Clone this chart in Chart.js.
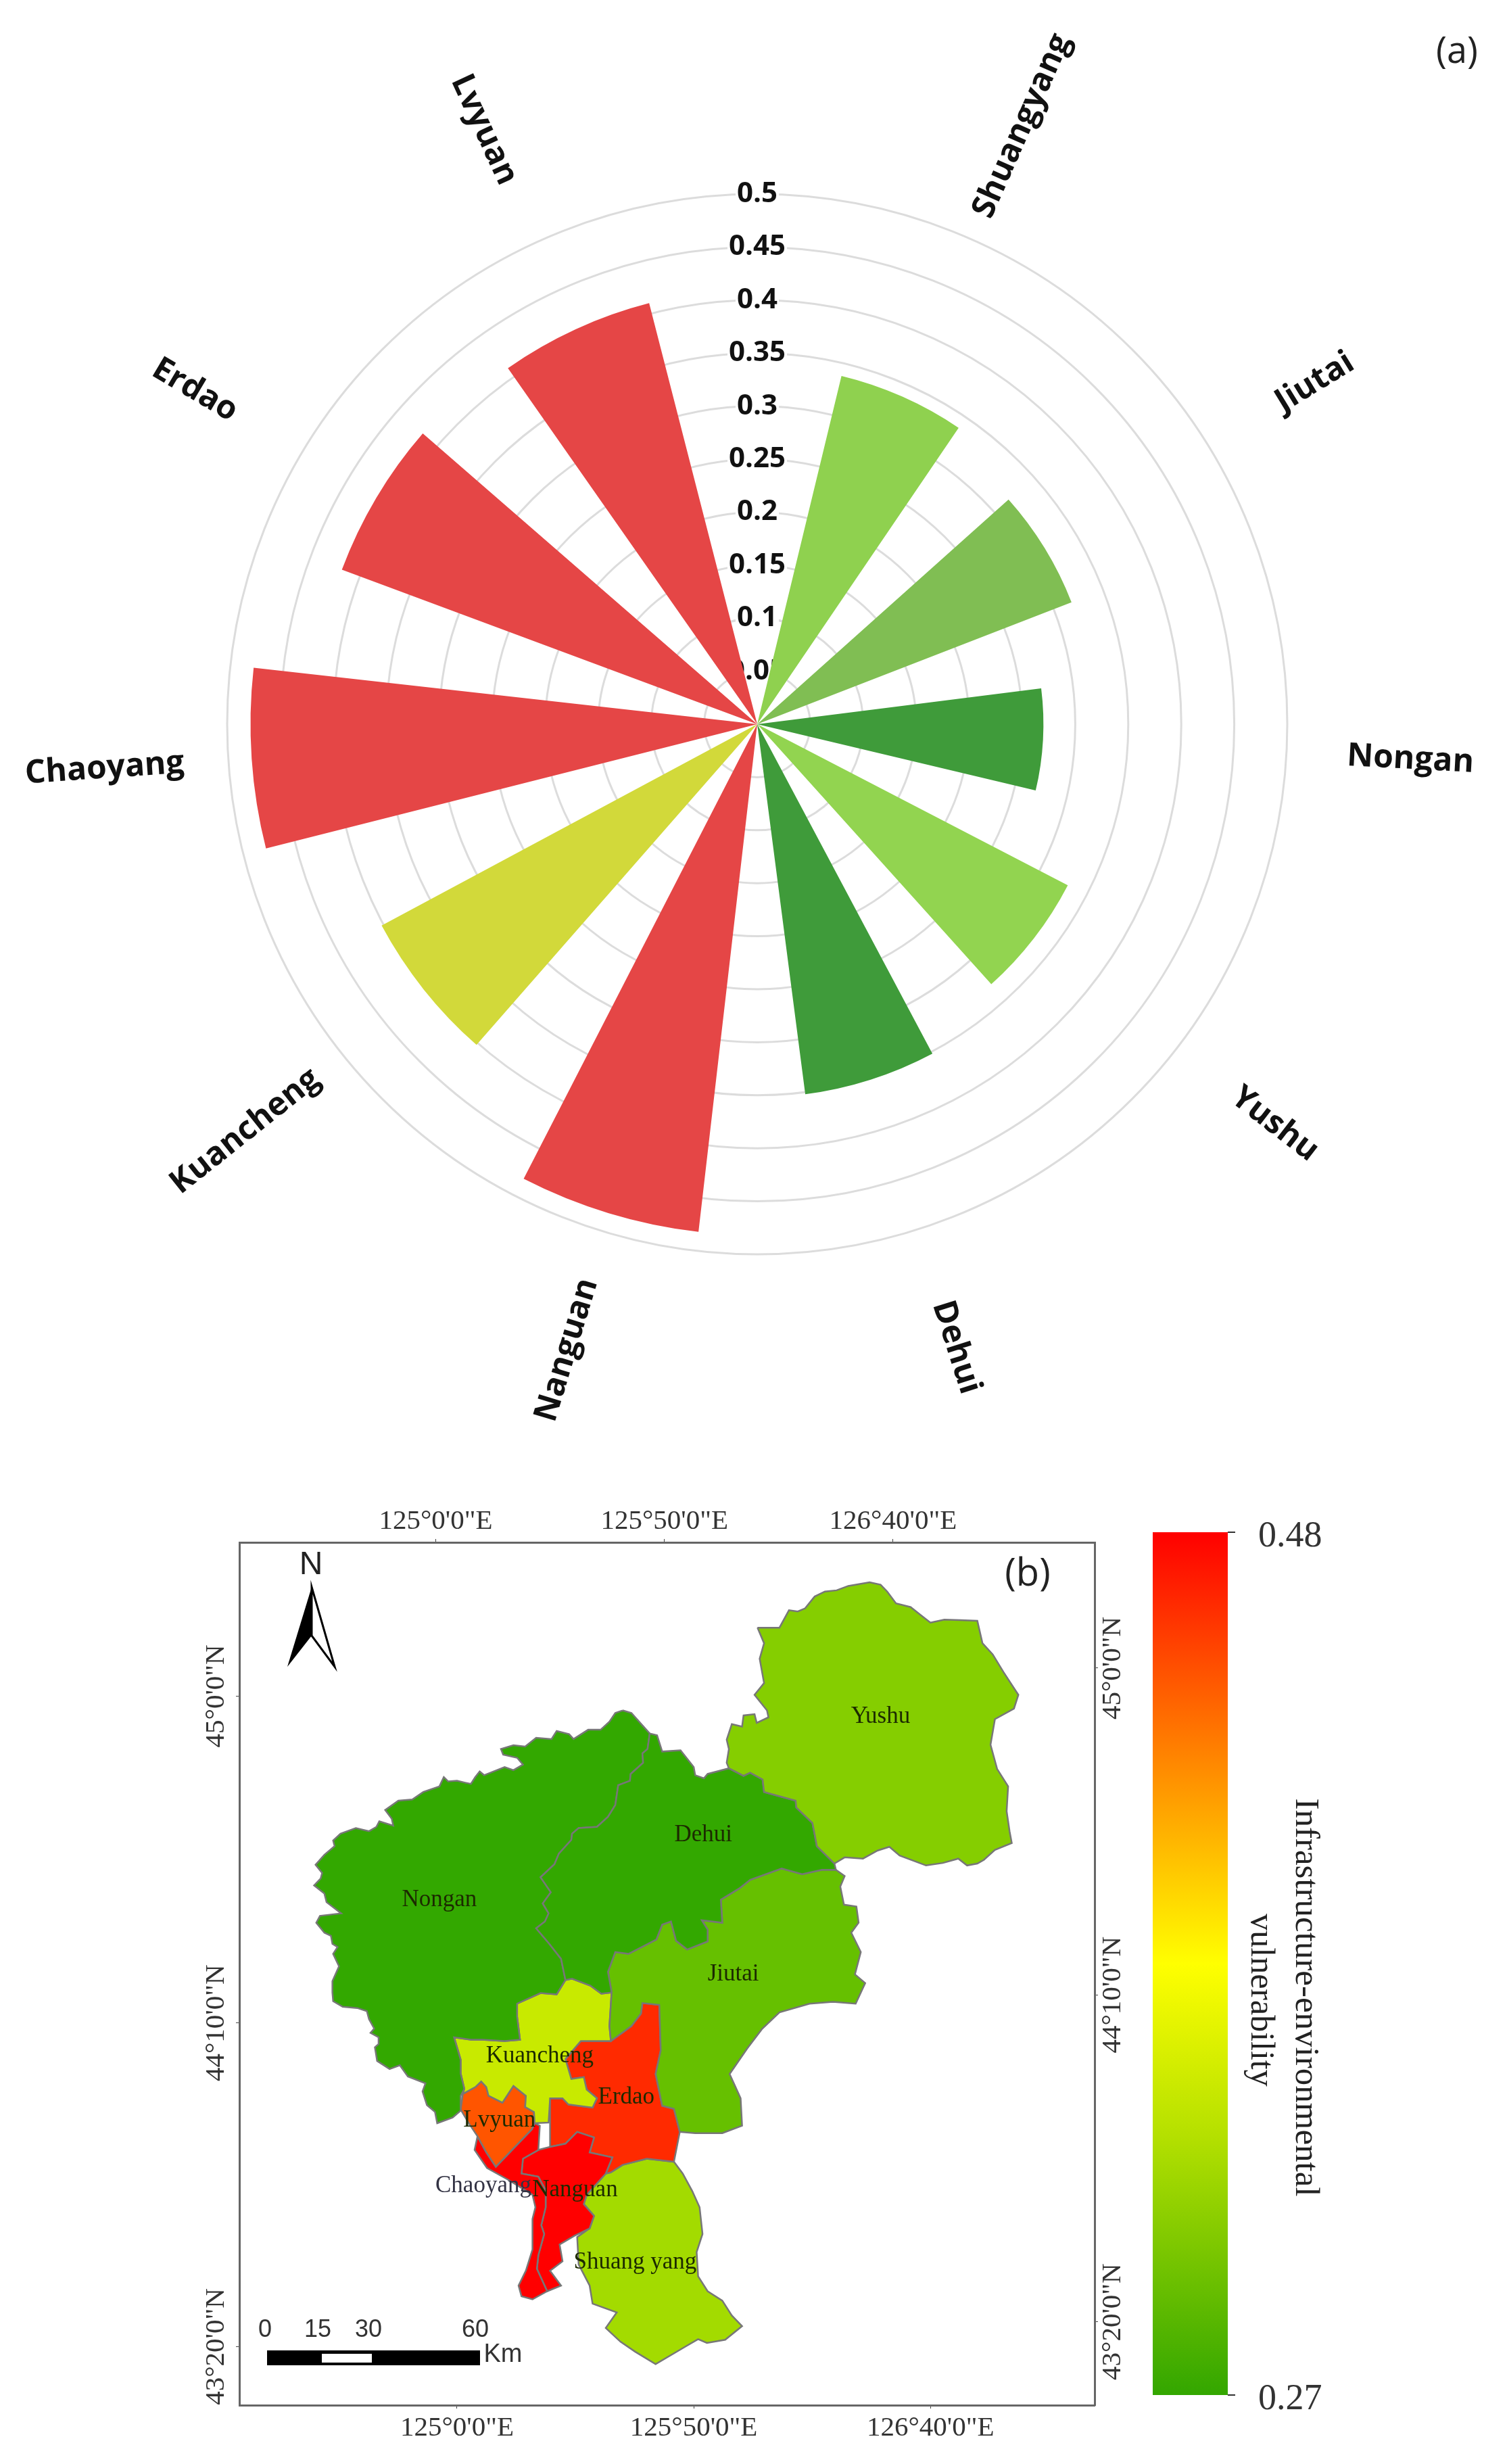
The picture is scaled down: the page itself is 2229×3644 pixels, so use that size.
<html>

<head>
  <title>Infrastructure-environmental vulnerability</title>
  <script src="https://cdn.jsdelivr.net/npm/chart.js@4/dist/chart.umd.min.js"></script>
  <style>
    body { margin: 0; background: #fff; }
    #page { position: relative; width: 2229px; height: 3644px; overflow: hidden; }
    canvas { position: absolute; left: 0; top: 0; filter: blur(0.6px); }
  </style>
</head>

<body>
  <div id="page">
    <canvas id="polarChart" width="2229" height="3644"></canvas>
    <canvas id="mapChart" width="2229" height="3644"></canvas>
    <canvas id="barChart" width="2229" height="3644"></canvas>
  </div>

  <script>
    // panel (a)
    const counties = ["Shuangyang", "Jiutai", "Nongan", "Yushu", "Dehui", "Nanguan", "Kuancheng", "Chaoyang", "Erdao", "Lvyuan"];
    const vulnerability = [0.338, 0.318, 0.27, 0.33, 0.352, 0.482, 0.402, 0.478, 0.418, 0.41];
    const wedgeColors = ["#8FD14F", "#80BE53", "#3F9B3A", "#92D450", "#3F9B3A", "#E54646", "#D2D93A", "#E54646", "#E54646", "#E54646"];
    const wedgeAngle = 20.6;
    const gapAngle = 14;
    const firstWedgeStart = 13.6;
    const radialMax = 0.5;
    const radialStep = 0.05;

    const yushu = [[757,225],[787,225],[800,197],[812,199],[822,194],[835,175],[849,167],[865,165],[881,158],[910,152],[925,156],[934,167],[946,186],[966,192],[980,205],[993,217],[1012,212],[1034,213],[1057,214],[1064,250],[1078,268],[1093,297],[1113,333],[1107,355],[1081,372],[1075,413],[1084,452],[1099,480],[1097,520],[1101,552],[1104,571],[1081,582],[1066,598],[1057,604],[1043,607],[1031,596],[1010,603],[987,607],[951,591],[937,577],[921,583],[901,596],[876,594],[862,604],[838,576],[835,557],[832,539],[810,514],[809,503],[766,489],[764,469],[747,458],[738,463],[718,451],[715,442],[718,420],[715,405],[722,380],[736,384],[738,366],[753,364],[756,378],[772,369],[770,358],[753,333],[766,314],[760,275],[766,250]];
    const dehui = [[610,395],[620,398],[627,424],[652,422],[670,449],[672,462],[684,467],[689,460],[718,451],[738,463],[747,458],[764,469],[766,489],[809,503],[810,514],[832,539],[835,557],[838,576],[862,604],[864,614],[845,614],[818,621],[790,612],[747,630],[732,644],[707,662],[709,699],[681,695],[689,710],[689,729],[661,742],[646,728],[639,697],[627,702],[619,726],[581,749],[563,746],[553,778],[558,811],[544,813],[529,800],[504,789],[495,791],[489,757],[473,733],[455,708],[467,697],[472,684],[464,668],[475,650],[461,626],[480,605],[486,588],[503,566],[504,556],[513,547],[538,545],[553,529],[563,510],[567,478],[583,471],[584,460],[601,442],[600,427],[607,420]];
    const nongan = [[573,358],[585,362],[600,382],[610,395],[607,420],[600,427],[601,442],[584,460],[583,471],[567,478],[563,510],[553,529],[538,545],[513,547],[504,556],[503,566],[486,588],[480,605],[461,626],[475,650],[464,668],[472,684],[467,697],[455,708],[473,733],[489,757],[495,791],[483,814],[461,812],[429,829],[429,850],[433,887],[412,889],[381,887],[366,887],[343,883],[352,919],[352,941],[357,966],[352,977],[352,1001],[341,1012],[320,1021],[317,1003],[306,992],[300,970],[304,957],[280,946],[269,928],[255,934],[238,921],[235,899],[240,894],[240,883],[229,876],[234,869],[227,854],[224,841],[211,836],[191,834],[178,825],[177,811],[177,793],[186,769],[178,749],[184,738],[177,733],[175,720],[166,715],[155,699],[160,688],[189,684],[169,666],[166,652],[152,639],[161,628],[163,619],[154,606],[166,590],[180,576],[178,567],[188,556],[209,547],[227,552],[237,545],[241,536],[260,543],[258,532],[249,518],[267,503],[286,501],[301,489],[323,480],[329,465],[335,472],[347,471],[358,474],[366,476],[372,465],[378,456],[384,462],[412,449],[424,454],[437,445],[429,434],[410,429],[407,420],[424,414],[440,416],[455,402],[476,404],[483,391],[500,396],[506,404],[526,389],[543,389],[555,376],[563,362]];
    const jiutai = [[864,614],[876,624],[870,641],[875,670],[892,673],[895,699],[885,715],[898,746],[890,782],[904,796],[891,829],[860,826],[828,829],[787,843],[763,870],[743,901],[719,942],[734,981],[736,1025],[709,1037],[672,1037],[651,1035],[643,998],[627,993],[618,942],[625,904],[623,831],[600,828],[598,845],[585,865],[557,889],[555,865],[558,811],[553,778],[563,746],[581,749],[619,726],[627,702],[639,697],[646,728],[661,742],[689,729],[689,710],[681,695],[709,699],[707,662],[732,644],[747,630],[790,612],[818,621],[845,614]];
    const kuancheng = [[343,883],[366,887],[381,887],[412,889],[433,887],[429,850],[429,829],[461,812],[483,814],[495,791],[504,789],[529,800],[544,813],[558,811],[555,865],[557,889],[516,889],[495,918],[503,950],[520,947],[524,967],[538,981],[532,996],[499,991],[491,981],[474,981],[472,1020],[453,1021],[452,1003],[440,995],[441,977],[424,961],[409,988],[390,977],[387,963],[380,954],[372,963],[355,974],[357,966],[352,941],[352,919]];
    const lvyuan = [[355,974],[372,963],[380,954],[387,963],[390,977],[409,988],[424,961],[441,977],[440,995],[452,1003],[453,1021],[449,1031],[400,1091],[387,1068],[375,1042],[363,1021],[352,999]];
    const chaoyang = [[453,1021],[460,1025],[458,1064],[437,1078],[435,1102],[458,1107],[468,1129],[468,1156],[462,1185],[466,1199],[458,1233],[456,1255],[470,1291],[450,1304],[435,1299],[431,1282],[441,1258],[450,1224],[450,1175],[454,1156],[450,1136],[417,1112],[388,1093],[371,1064],[375,1042],[387,1068],[400,1091],[449,1031]];
    const nanguan = [[435,1102],[437,1078],[458,1064],[474,1059],[495,1054],[511,1035],[534,1044],[528,1068],[559,1076],[550,1102],[524,1136],[520,1151],[534,1170],[528,1190],[507,1202],[487,1216],[491,1243],[474,1258],[489,1282],[470,1291],[456,1255],[458,1233],[466,1199],[462,1185],[468,1156],[468,1129],[458,1107]];
    const erdao = [[600,828],[623,831],[625,904],[618,942],[627,993],[643,998],[651,1035],[643,1083],[606,1078],[573,1088],[557,1100],[550,1102],[559,1076],[528,1068],[534,1044],[511,1035],[495,1054],[474,1059],[474,981],[491,981],[499,991],[532,996],[538,981],[524,967],[520,947],[503,950],[495,918],[516,889],[557,889],[585,865],[598,845]];
    const shuangyang = [[557,1100],[573,1088],[606,1078],[643,1083],[655,1102],[668,1130],[678,1156],[682,1199],[674,1228],[676,1267],[689,1291],[709,1306],[722,1330],[736,1347],[713,1369],[688,1374],[676,1368],[660,1379],[618,1408],[590,1388],[570,1372],[550,1350],[565,1325],[532,1311],[528,1282],[513,1248],[511,1204],[528,1190],[534,1170],[520,1151],[524,1136],[550,1102]];

    const mapOutlines = [yushu, dehui, nongan, jiutai, kuancheng, lvyuan, chaoyang, nanguan, erdao, shuangyang];
    const mapColors = ["#85CE00", "#33A800", "#33A800", "#66C000", "#C8EA00", "#FF5500", "#FF0000", "#FF0000", "#FF2A00", "#A3DB00"];

    const mapLabels = ["Yushu", "Dehui", "Nongan", "Jiutai", "Kuancheng", "Lvyuan", "Chaoyang", "Nanguan", "Erdao", "Shuang yang"];
    const mapLabelX = [925, 683, 323, 724, 460, 405, 383, 508, 578, 590];
    const mapLabelY = [368, 558, 662, 782, 913, 1017, 1122, 1128, 980, 1245];

    const lonLabels = ["125°0'0\"E", "125°50'0\"E", "126°40'0\"E"];
    const latLabels = ["45°0'0\"N", "44°10'0\"N", "43°20'0\"N"];
    const topTicks = [318, 630, 942];
    const bottomTicks = [347, 670, 993];
    const leftTicks = [335, 860, 1380];
    const rightTicks = [290, 815, 1340];

    const scaleKm = [0, 15, 30, 60];

    // colour bar
    const barRange = [0.27, 0.48];
    const barStops = [0, 0.25, 0.5, 0.7, 1];
    const barColors = ["#FF0000", "#FF7F00", "#FFFF00", "#B4E000", "#33A600"];

    const serif = "'Liberation Serif'";
    const sans = "'Liberation Sans'";

    Chart.defaults.animation = false;
    Chart.defaults.responsive = false;
    Chart.defaults.devicePixelRatio = 1;
    Chart.defaults.plugins.legend.display = false;
    Chart.defaults.plugins.tooltip.enabled = false;

    function drawText(ctx, text, x, y, font, color, rotation) {
      ctx.save();
      ctx.translate(x, y);
      ctx.rotate(rotation || 0);
      ctx.font = font;
      ctx.fillStyle = color;
      ctx.textAlign = "center";
      ctx.textBaseline = "middle";
      ctx.fillText(text, 0, 0);
      ctx.restore();
    }

    // polar chart: an empty slice in front, then wedge + gap, so the wedges do not touch
    const sliceValues = [0];
    const sliceAngles = [firstWedgeStart];
    const sliceColors = ["rgba(0,0,0,0)"];
    const sliceLabels = [""];
    counties.forEach((name, i) => {
      sliceValues.push(vulnerability[i], 0);
      sliceAngles.push(wedgeAngle, gapAngle);
      sliceColors.push(wedgeColors[i], "rgba(0,0,0,0)");
      sliceLabels.push(name, "");
    });

    const countyLabelPlugin = {
      id: "countyLabels",
      afterDraw(chart) {
        const scale = chart.scales.r;
        const arcs = chart.getDatasetMeta(0).data;
        const dist = scale.getDistanceFromCenterForValue(0.617);
        counties.forEach((name, i) => {
          const arc = arcs[i * 2 + 1];
          const mid = (arc.startAngle + arc.endAngle) / 2;
          const flip = Math.cos(mid) < 0;
          drawText(chart.ctx, name, scale.xCenter + Math.cos(mid) * dist, scale.yCenter + Math.sin(mid) * dist,
            "700 48px 'Open Sans'", "#111", flip ? mid + Math.PI : mid);
        });
        drawText(chart.ctx, "(a)", 2155, 78, "54px 'Open Sans'", "#222");
      }
    };

    new Chart(document.getElementById("polarChart").getContext("2d"), {
      type: "polarArea",
      data: {
        labels: sliceLabels,
        datasets: [{ data: sliceValues, angle: sliceAngles, backgroundColor: sliceColors, borderWidth: 0 }]
      },
      options: {
        layout: { padding: { left: 313, right: 302, top: 264, bottom: 1766 } },
        scales: {
          r: {
            min: 0,
            max: radialMax,
            grid: { color: "#DCDCDC", lineWidth: 3 },
            angleLines: { display: false },
            ticks: {
              stepSize: radialStep,
              color: "#111",
              font: { family: "'Open Sans'", size: 42, weight: "700" },
              backdropColor: "#fff",
              backdropPadding: 2,
              callback: (v) => String(+v.toFixed(2))
            }
          }
        }
      },
      plugins: [countyLabelPlugin]
    });

    // map chart
    const mapTextPlugin = {
      id: "mapText",
      afterDraw(chart) {
        const ctx = chart.ctx;
        const { xBottom, yLeft, yRight } = chart.scales;

        mapLabels.forEach((name, i) => {
          drawText(ctx, name, xBottom.getPixelForValue(mapLabelX[i]), yLeft.getPixelForValue(mapLabelY[i]),
            "35px " + serif, i === 6 ? "#334" : "#1c2a00");
        });
        latLabels.forEach((label, i) => {
          drawText(ctx, label, yLeft.right - 34, yLeft.getPixelForValue(leftTicks[i]), "41px " + serif, "#333", -Math.PI / 2);
          drawText(ctx, label, yRight.left + 27, yLeft.getPixelForValue(rightTicks[i]), "41px " + serif, "#333", -Math.PI / 2);
        });

        drawText(ctx, "(b)", 1520, 2329, "56px 'Open Sans'", "#222");

        // north arrow
        drawText(ctx, "N", 460, 2315, "48px " + sans, "#222");
        ctx.beginPath();
        ctx.moveTo(461, 2347);
        ctx.lineTo(425, 2465);
        ctx.lineTo(461, 2419);
        ctx.closePath();
        ctx.fillStyle = "#000";
        ctx.fill();
        ctx.beginPath();
        ctx.moveTo(461, 2347);
        ctx.lineTo(495, 2465);
        ctx.lineTo(461, 2419);
        ctx.closePath();
        ctx.fillStyle = "#fff";
        ctx.fill();
        ctx.strokeStyle = "#000";
        ctx.lineWidth = 3;
        ctx.stroke();

        // scale bar
        ctx.fillStyle = "#000";
        ctx.fillRect(395, 3476, 315, 22);
        ctx.fillStyle = "#fff";
        ctx.fillRect(476, 3481, 74, 13);
        const barX = [392, 470, 545, 703];
        scaleKm.forEach((km, i) => {
          drawText(ctx, String(km), barX[i], 3446, "36px " + sans, "#333");
        });
        drawText(ctx, "Km", 744, 3483, "38px " + sans, "#333");
      }
    };

    const frameBorder = { display: true, color: "#666", width: 3 };
    const tickGrid = { drawOnChartArea: false, drawTicks: true, tickLength: 5, color: "#444" };

    function fixedTicks(values) {
      return function (scale) {
        scale.ticks = values.map((v) => ({ value: v }));
      };
    }

    new Chart(document.getElementById("mapChart").getContext("2d"), {
      type: "scatter",
      data: {
        datasets: mapOutlines.map((outline, i) => ({
          data: outline.concat([outline[0]]).map((p) => ({ x: p[0], y: p[1] })),
          xAxisID: "xBottom",
          yAxisID: "yLeft",
          showLine: true,
          fill: "shape",
          backgroundColor: mapColors[i],
          borderColor: "#777",
          borderWidth: 2.5,
          pointRadius: 0,
          tension: 0
        }))
      },
      options: {
        layout: { padding: { left: 260, right: 509, top: 2190, bottom: 0 } },
        scales: {
          xBottom: {
            type: "linear", position: "bottom", min: 50, max: 1217,
            border: frameBorder, grid: tickGrid,
            afterBuildTicks: fixedTicks(bottomTicks),
            afterFit(s) { s.height = 87; },
            ticks: {
              autoSkip: false, maxRotation: 0, padding: 5, color: "#333",
              font: { family: serif, size: 41 },
              callback: (v, i) => lonLabels[i]
            }
          },
          xTop: {
            type: "linear", position: "top", min: 50, max: 1217,
            border: frameBorder, grid: tickGrid,
            afterBuildTicks: fixedTicks(topTicks),
            afterFit(s) { s.height = 91; },
            ticks: {
              autoSkip: false, maxRotation: 0, padding: 1, color: "#333",
              font: { family: serif, size: 41 },
              callback: (v, i) => lonLabels[i]
            }
          },
          yLeft: {
            type: "linear", position: "left", reverse: true, min: 88, max: 1474,
            border: frameBorder, grid: tickGrid,
            afterBuildTicks: fixedTicks(leftTicks),
            afterFit(s) { s.width = 94; },
            ticks: { display: false }
          },
          yRight: {
            type: "linear", position: "right", reverse: true, min: 88, max: 1474,
            border: frameBorder, grid: tickGrid,
            afterBuildTicks: fixedTicks(rightTicks),
            afterFit(s) { s.width = 101; },
            ticks: { display: false }
          }
        }
      },
      plugins: [mapTextPlugin]
    });

    // colour bar
    const barTitlePlugin = {
      id: "barTitle",
      afterDraw(chart) {
        drawText(chart.ctx, "Infrastructure-environmental", 1930, 2954, "51px " + serif, "#222", Math.PI / 2);
        drawText(chart.ctx, "vulnerability", 1864, 2958, "50px " + serif, "#222", Math.PI / 2);
      }
    };

    new Chart(document.getElementById("barChart").getContext("2d"), {
      type: "bar",
      data: {
        labels: [""],
        datasets: [{
          data: [barRange],
          barPercentage: 1,
          categoryPercentage: 1,
          backgroundColor: (context) => {
            const area = context.chart.chartArea;
            if (!area) return barColors[0];
            const grad = context.chart.ctx.createLinearGradient(0, area.top, 0, area.bottom);
            barStops.forEach((s, i) => grad.addColorStop(s, barColors[i]));
            return grad;
          }
        }]
      },
      options: {
        layout: { padding: { left: 1705, right: 0, top: 2266, bottom: 102 } },
        scales: {
          x: { display: false },
          y: {
            position: "right", min: barRange[0], max: barRange[1],
            border: { display: false },
            grid: { drawOnChartArea: false, drawTicks: true, tickLength: 11, color: "#333", lineWidth: 2 },
            afterBuildTicks: fixedTicks(barRange),
            afterFit(s) { s.width = 2229 - 1816; },
            ticks: {
              padding: 34, color: "#333", labelOffset: 7,
              font: { family: serif, size: 54 },
              callback: (v) => v.toFixed(2)
            }
          }
        }
      },
      plugins: [barTitlePlugin]
    });
  </script>
</body>

</html>
